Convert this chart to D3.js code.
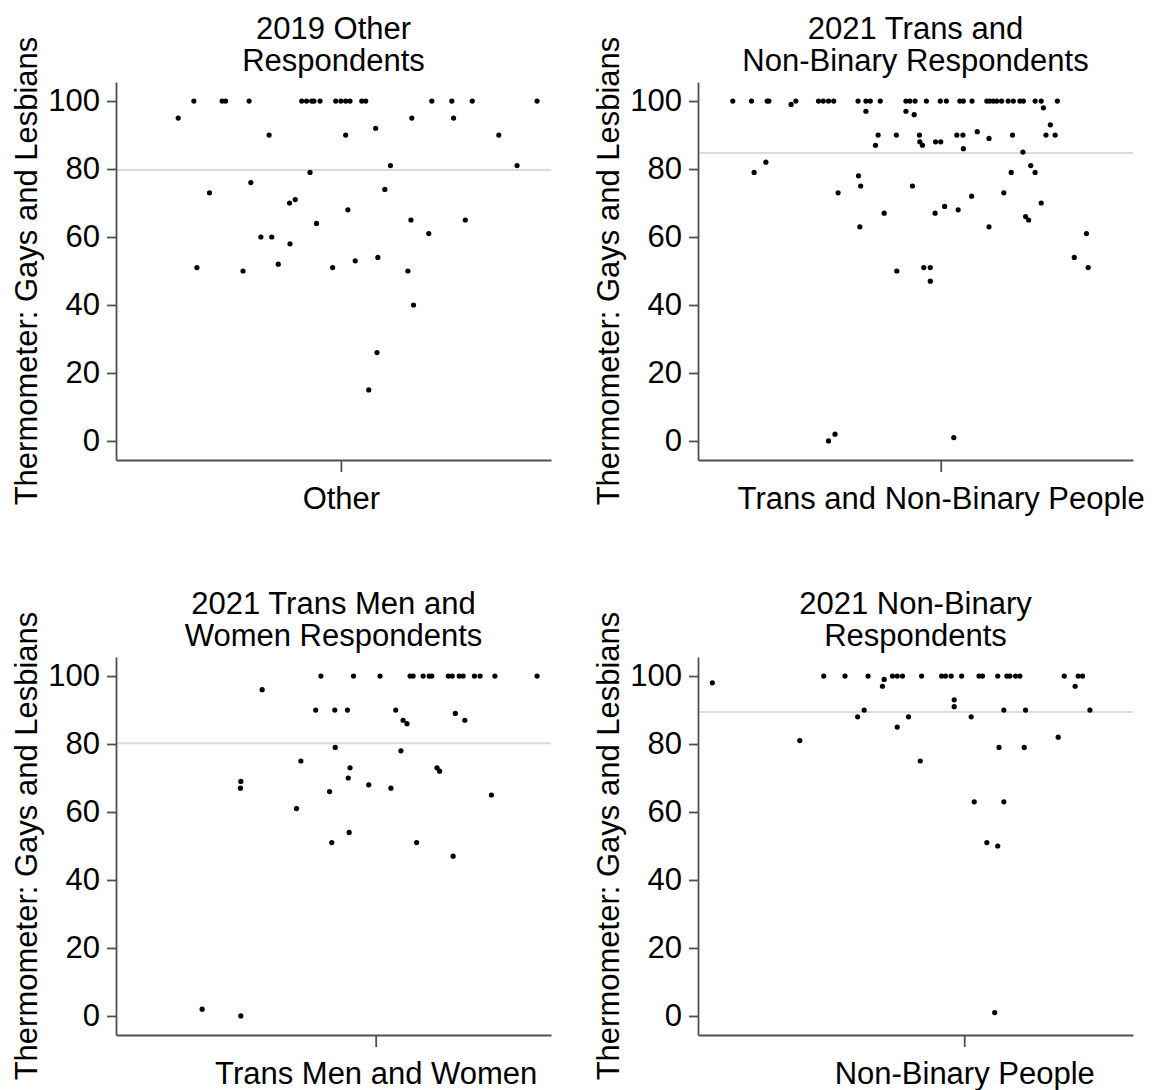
<!DOCTYPE html>
<html>
<head>
<meta charset="utf-8">
<script src="https://cdn.jsdelivr.net/npm/d3@7"></script>
<style>
  body { margin: 0; background: #fff; }
  text { font-family: "Liberation Sans", Arial, sans-serif; fill: #000; }
</style>
</head>
<body>
<script>
// panel titles, group labels, jittered group position and mean line per panel
const titles = [
  ['2019 Other', 'Respondents'],
  ['2021 Trans and', 'Non-Binary Respondents'],
  ['2021 Trans Men and', 'Women Respondents'],
  ['2021 Non-Binary', 'Respondents']
];
const groups = ['Other', 'Trans and Non-Binary People', 'Trans Men and Women', 'Non-Binary People'];
const groupPos = [51.7, 55.8, 59.7, 61.2];
const means = [79.7, 84.7, 80.2, 89.4];
const yTicks = [0, 20, 40, 60, 80, 100];

// thermometer scores and the horizontal jitter (0-100 of the panel width)
const otherScore = [100,100,100,100,100,100,100,100,100,100,100,100,100,100,100,100,100,100,100,
  95,95,95, 92, 90,90,90, 81,81, 79, 76, 74, 73, 71, 70, 68, 65,65, 64, 61, 60,60, 58, 54, 53, 52,
  51,51, 50,50, 40, 26, 15];
const otherJitter = [17.9,24.4,25.2,30.6,42.7,43.8,45.0,45.5,46.9,50.5,51.7,52.8,53.8,56.5,57.4,72.6,77.2,81.9,96.8,
  14.3,68.0,77.6, 59.7, 35.2,52.8,88.0, 63.1,92.2, 44.6, 31.0, 61.8, 21.5, 41.2, 39.9, 53.3, 67.8,80.3, 46.1, 71.9, 33.3,35.8, 40.0, 60.2, 55.0, 37.3,
  18.6,49.8, 29.2,67.1, 68.4, 60.0, 58.1];

const tnbScore = [100,100,100,100,100,100,100,100,100,100,100,100,100,100,100,100,100,
  100,100,100,100,100,100,100,100,100,100,100,100,100,100,100,100,100,
  99, 98, 97,97, 96, 93, 91, 90,90,90,90,90,90,90,90, 89, 88,88,88, 87,87, 86, 85, 82, 81,
  79,79,79, 78, 75,75, 73,73, 72, 70, 69, 68, 67,67, 66, 65, 63,63, 61, 54, 51,51,51, 50, 47, 2, 1, 0];
const tnbJitter = [8.0,12.3,15.9,16.3,22.5,27.7,28.8,30.0,31.2,36.8,38.6,39.6,41.9,47.8,48.7,49.9,52.5,
  55.7,57.1,60.2,61.0,63.0,66.4,67.1,67.9,68.7,69.8,71.3,72.5,74.0,74.8,77.5,78.9,82.6,
  21.4, 79.4, 38.6,47.8, 49.7, 81.0, 64.2, 41.4,45.6,50.9,59.5,60.9,72.3,80.0,82.1, 66.9, 51.0,54.6,55.8, 40.8,51.6, 61.0, 74.7, 15.6, 76.5,
  12.9,72.0,77.5, 36.9, 37.4,49.3, 32.2,70.3, 62.9, 78.9, 56.7, 59.8, 42.8,54.5, 75.3, 76.0, 37.2,66.9, 89.3, 86.5, 51.9,53.4,89.7, 45.7, 53.4, 31.5, 58.8, 30.0];

const tmwScore = [100,100,100,100,100,100,100,100,100,100,100,100,100,100,100,100,
  96, 90,90,90,90, 89, 87,87, 86, 79, 78, 75, 73,73, 72, 70, 69, 68, 67,67, 66, 65, 61, 54, 51,51, 47, 2, 0];
const tmwJitter = [47.1,54.6,60.7,67.6,68.3,70.6,72.0,72.6,76.4,77.3,78.9,79.8,82.4,83.7,87.1,96.8,
  33.6, 45.9,50.3,53.2,64.3, 78.0, 66.0,80.2, 66.9, 50.4, 65.5, 42.5, 53.8,73.8, 74.4, 53.4, 28.7, 58.1, 28.6,63.2, 49.1, 86.3, 41.5, 53.6, 49.6,69.1, 77.5, 19.8, 28.7];

const nbScore = [100,100,100,100,100,100,100,100,100,100,100,100,100,100,100,100,100,100,100,100,100,
  99, 98, 97,97, 93, 91, 90,90,90,90, 88,88,88, 85, 82, 81, 79,79, 75, 63,63, 51, 50, 1];
const nbJitter = [28.9,33.8,39.1,44.7,45.8,47.0,51.4,56.0,56.9,58.2,60.6,64.6,65.4,68.9,71.0,71.7,73.0,74.0,84.2,87.4,88.4,
  42.8, 3.3, 42.4,86.7, 58.9, 58.9, 38.2,70.3,75.3,90.1, 36.7,48.4,62.8, 45.8, 82.8, 23.4, 69.2,75.0, 51.1, 63.5,70.3, 66.4, 68.9, 68.2];

const scores = [otherScore, tnbScore, tmwScore, nbScore];
const jitters = [otherJitter, tnbJitter, tmwJitter, nbJitter];

const width = 1157;
const height = 1090;
const plotW = 435;
const plotH = 378;
const fontSize = 31;
const axisColor = '#505050';

const svg = d3.select('body')
  .append('svg')
  .attr('width', width)
  .attr('height', height);

const x = d3.scaleLinear().domain([0, 100]).range([0, plotW]);
const y = d3.scaleLinear().domain([-5.6, 105.6]).range([plotH, 0]);

groups.forEach((group, i) => {
  const col = i % 2;
  const row = Math.floor(i / 2);
  const g = svg.append('g')
    .attr('transform', `translate(${116 + col * 582},${82 + row * 575})`);

  // mean line
  g.append('line')
    .attr('x1', 0)
    .attr('x2', plotW)
    .attr('y1', y(means[i]))
    .attr('y2', y(means[i]))
    .style('stroke', '#dcdcdc')
    .style('stroke-width', 2);

  const yAxis = g.append('g')
    .call(d3.axisLeft(y).tickValues(yTicks).tickSize(9).tickSizeOuter(0).tickPadding(7));

  const xAxis = g.append('g')
    .attr('transform', `translate(0,${plotH})`)
    .call(d3.axisBottom(x).tickValues([groupPos[i]]).tickSize(12).tickSizeOuter(0).tickPadding(15)
      .tickFormat(() => group));

  [yAxis, xAxis].forEach(a => {
    a.selectAll('path, line').style('stroke', axisColor).style('stroke-width', 1.8);
    a.selectAll('text').style('font-size', fontSize + 'px').style('fill', '#000');
  });

  // points
  g.append('g')
    .selectAll('circle')
    .data(d3.zip(jitters[i], scores[i]))
    .enter()
    .append('circle')
    .attr('cx', d => x(d[0]))
    .attr('cy', d => y(d[1]))
    .attr('r', 2.6)
    .style('fill', '#000');

  // title
  g.append('text')
    .attr('x', plotW / 2)
    .attr('text-anchor', 'middle')
    .style('font-size', fontSize + 'px')
    .selectAll('tspan')
    .data(titles[i])
    .enter()
    .append('tspan')
    .attr('x', plotW / 2)
    .attr('y', (d, k) => -43 + k * 32)
    .text(d => d);

  // y axis title
  g.append('text')
    .attr('transform', `translate(-79,${plotH / 2}) rotate(-90)`)
    .attr('text-anchor', 'middle')
    .style('font-size', fontSize + 'px')
    .text('Thermometer: Gays and Lesbians');
});
</script>
</body>
</html>
